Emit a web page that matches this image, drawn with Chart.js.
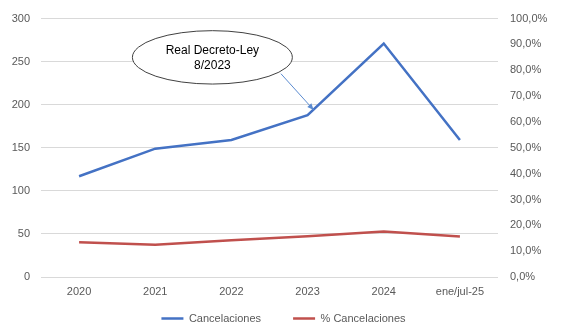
<!DOCTYPE html>
<html>
<head>
<meta charset="utf-8">
<script src="https://cdn.jsdelivr.net/npm/chart.js@4"></script>
<style>
  html, body { margin: 0; padding: 0; background: #fff; }
  #wrap { width: 567px; height: 334px; }
</style>
</head>
<body>
<div id="wrap"><canvas id="chart" width="567" height="334"></canvas></div>
<script>
const categories = ["2020", "2021", "2022", "2023", "2024", "ene/jul-25"];
const cancelaciones = [117, 149, 159, 188, 271, 159];
const pctCancelaciones = [0.134, 0.125, 0.142, 0.158, 0.176, 0.157];
const leftTicks = [0, 50, 100, 150, 200, 250, 300];
const noteLines = ["Real Decreto-Ley", "8/2023"];

const FONT = "'Liberation Sans', Arial, sans-serif";
const GREY = "#595959";

// callout ellipse with arrow to the 2023 point
const calloutPlugin = {
  id: "callout",
  afterDatasetsDraw(chart) {
    const { ctx } = chart;
    const x = chart.scales.x;
    const y = chart.scales.y;
    const step = x.getPixelForValue(1) - x.getPixelForValue(0);
    const cx = x.getPixelForValue(1.75);
    const cy = y.getPixelForValue(255);
    const rx = step * 1.05;
    const ry = y.getPixelForValue(0) - y.getPixelForValue(31);

    ctx.save();
    ctx.beginPath();
    ctx.ellipse(cx, cy, rx, ry, 0, 0, Math.PI * 2);
    ctx.fillStyle = "#fff";
    ctx.fill();
    ctx.lineWidth = 1;
    ctx.strokeStyle = "#404040";
    ctx.stroke();

    ctx.fillStyle = "#000";
    ctx.font = "12px " + FONT;
    ctx.textAlign = "center";
    ctx.textBaseline = "middle";
    ctx.fillText(noteLines[0], cx, cy - 7);
    ctx.fillText(noteLines[1], cx, cy + 8);

    // arrow
    const x0 = x.getPixelForValue(2.65), y0 = y.getPixelForValue(236);
    const x1 = x.getPixelForValue(3.08), y1 = y.getPixelForValue(194);
    ctx.beginPath();
    ctx.moveTo(x0, y0);
    ctx.lineTo(x1, y1);
    ctx.strokeStyle = "#5B8BD0";
    ctx.lineWidth = 1;
    ctx.stroke();
    const ang = Math.atan2(y1 - y0, x1 - x0);
    const hl = 7;
    ctx.beginPath();
    ctx.moveTo(x1, y1);
    ctx.lineTo(x1 - hl * Math.cos(ang - 0.4), y1 - hl * Math.sin(ang - 0.4));
    ctx.lineTo(x1 - hl * Math.cos(ang + 0.4), y1 - hl * Math.sin(ang + 0.4));
    ctx.closePath();
    ctx.fillStyle = "#5B8BD0";
    ctx.fill();
    ctx.restore();
  }
};

new Chart(document.getElementById("chart"), {
  type: "line",
  data: {
    labels: categories,
    datasets: [
      {
        label: "Cancelaciones",
        data: cancelaciones,
        borderColor: "#4472C4",
        backgroundColor: "#4472C4",
        borderWidth: 2.5,
        pointRadius: 0,
        tension: 0,
        yAxisID: "y"
      },
      {
        label: "% Cancelaciones",
        data: pctCancelaciones,
        borderColor: "#C0504D",
        backgroundColor: "#C0504D",
        borderWidth: 2.5,
        pointRadius: 0,
        tension: 0,
        yAxisID: "y1"
      }
    ]
  },
  options: {
    responsive: false,
    animation: false,
    layout: { padding: { top: 17, right: 0, bottom: 0, left: 0 } },
    plugins: {
      legend: {
        position: "bottom",
        labels: {
          usePointStyle: true,
          pointStyle: "line",
          pointStyleWidth: 22,
          color: GREY,
          font: { family: FONT, size: 11 },
          padding: 10,
          generateLabels(chart) {
            const items = Chart.defaults.plugins.legend.labels.generateLabels(chart);
            // wider gap between the two legend entries
            items[0].text = items[0].text + "\u2003\u2003";
            return items;
          }
        }
      },
      tooltip: { enabled: false }
    },
    scales: {
      x: {
        offset: true,
        grid: { display: false, drawTicks: false },
        border: { display: false },
        ticks: { color: GREY, font: { family: FONT, size: 11 }, padding: 8, maxRotation: 0 },
        afterFit(s) { s.height = 26; }
      },
      y: {
        position: "left",
        min: 0,
        max: 300,
        afterBuildTicks(s) { s.ticks = leftTicks.map(v => ({ value: v })); },
        grid: { color: "#D9D9D9", lineWidth: 1, drawTicks: false },
        border: { display: false },
        ticks: { color: GREY, font: { family: FONT, size: 11 }, padding: 11 },
        afterFit(s) { s.width = 41; }
      },
      y1: {
        position: "right",
        min: 0,
        max: 1,
        grid: { display: false, drawTicks: false },
        border: { display: false },
        ticks: {
          stepSize: 0.1,
          color: GREY,
          font: { family: FONT, size: 11 },
          padding: 12,
          callback: v => (v * 100).toFixed(1).replace(".", ",") + "%"
        },
        afterFit(s) { s.width = 69; }
      }
    }
  },
  plugins: [calloutPlugin]
});
</script>
</body>
</html>
